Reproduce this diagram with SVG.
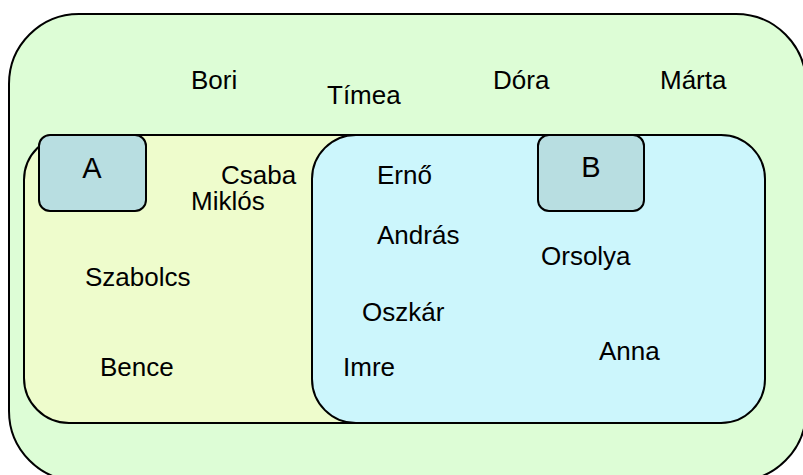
<svg xmlns="http://www.w3.org/2000/svg" width="803" height="475" viewBox="0 0 803 475">
  <style>
    .set { stroke: #000; stroke-width: 2; }
    .outer { fill: #ddfdd6; }
    .yellow { fill: #eefccc; }
    .blue { fill: #ccf6fc; }
    .tag { fill: #b8dee1; stroke: #000; stroke-width: 2; }
    text { font-family: "Liberation Sans", Arial, sans-serif; font-size: 26px; fill: #000; }
    .big { font-size: 29px; text-anchor: middle; }
  </style>

  <!-- universe set -->
  <g id="universe">
    <rect class="set outer" x="9" y="14" width="797" height="467" rx="70" ry="70"/>
    <text x="191" y="89">Bori</text>
    <text x="327" y="104">Tímea</text>
    <text x="493" y="89">Dóra</text>
    <text x="660" y="89">Márta</text>
  </g>

  <!-- set A -->
  <g id="setA">
    <rect class="set yellow" x="24" y="135" width="400" height="288" rx="45" ry="45"/>
    <text x="221" y="184">Csaba</text>
    <text x="191" y="210">Miklós</text>
    <text x="85" y="286">Szabolcs</text>
    <text x="100" y="376">Bence</text>
  </g>

  <!-- set B -->
  <g id="setB">
    <rect class="set blue" x="312" y="135" width="453" height="288" rx="44" ry="44"/>
    <text x="377" y="184">Ernő</text>
    <text x="377" y="244">András</text>
    <text x="362" y="321">Oszkár</text>
    <text x="343" y="376">Imre</text>
    <text x="541" y="265">Orsolya</text>
    <text x="599" y="360">Anna</text>
  </g>

  <!-- set labels -->
  <g id="labelA">
    <rect class="tag" x="39" y="135" width="107" height="76" rx="11" ry="11"/>
    <text class="big" x="92" y="178">A</text>
  </g>
  <g id="labelB">
    <rect class="tag" x="538" y="135" width="106" height="76" rx="11" ry="11"/>
    <text class="big" x="591" y="177">B</text>
  </g>

  <g id="connectors"/>
</svg>
